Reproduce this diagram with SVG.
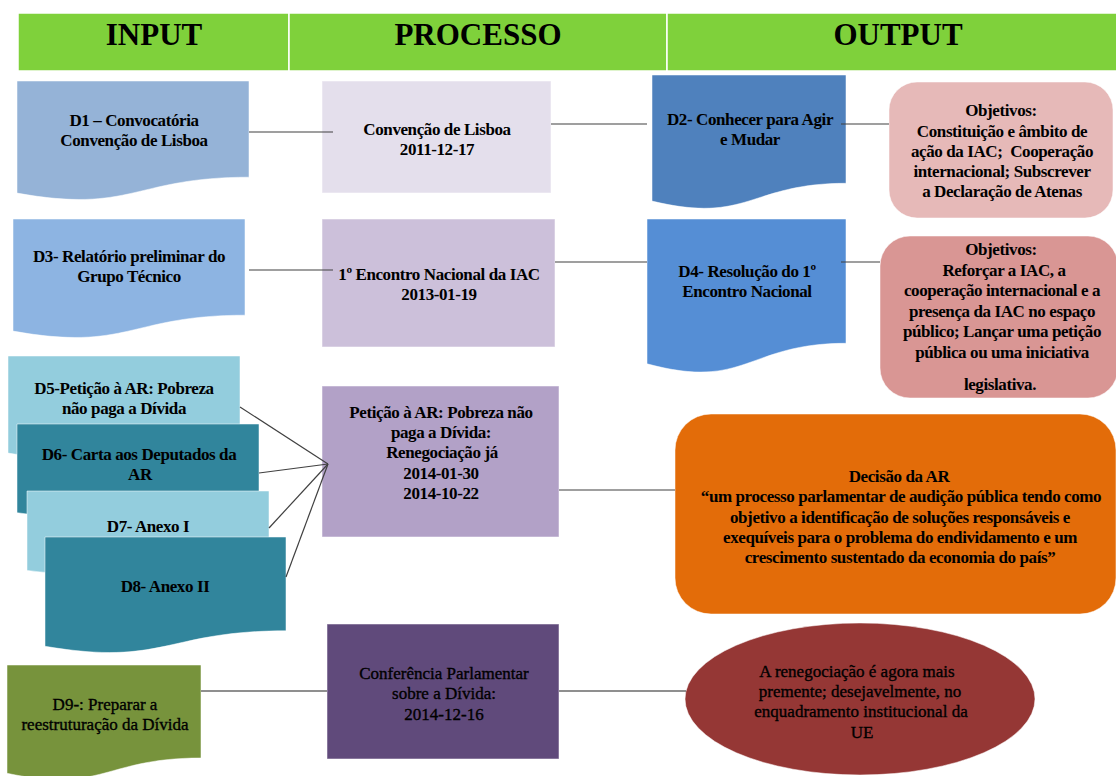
<svg xmlns="http://www.w3.org/2000/svg" width="1116" height="776" viewBox="0 0 1116 776">
<style>
.t{font-family:"Liberation Serif","Times New Roman",serif;font-size:17px;font-weight:bold;letter-spacing:-0.4px;text-anchor:middle;fill:#000}
.r{font-family:"Liberation Serif","Times New Roman",serif;font-size:17px;font-weight:normal;text-anchor:middle;fill:#000;stroke:#000;stroke-width:0.35}
.h{font-family:"Liberation Serif","Times New Roman",serif;font-size:31px;font-weight:bold;text-anchor:middle;fill:#000}
.hc{fill:#7FD13B;stroke:#fff;stroke-width:1.5}
.sh{stroke:#fff;stroke-opacity:0.5;stroke-width:1}
.c{stroke:#404040;stroke-width:1.2;fill:none}
.cb{stroke:#6a6a6a;stroke-width:1.6;fill:none}
</style>
<rect width="1116" height="776" fill="#fff"/>
<g id="header">
<rect class="hc" x="18" y="13" width="271" height="58"/>
<rect class="hc" x="289" y="13" width="378" height="58"/>
<rect class="hc" x="667" y="13" width="460" height="58"/>
<text class="h" x="154" y="45">INPUT</text>
<text class="h" x="478" y="45">PROCESSO</text>
<text class="h" x="898" y="45">OUTPUT</text>
</g>
<g id="D1">
<path class="sh" fill="#95B3D7" d="M17,81 H249 V177.2 C133,177.2 133,213.9 17,193.1 Z"/>
<text class="t" x="134" y="126">D1 – Convocatória</text>
<text class="t" x="134" y="146">Convenção de Lisboa</text>
</g>
<g id="P1">
<rect class="sh" fill="#E4DFEC" x="322" y="81" width="229" height="112"/>
<text class="t" x="437" y="135">Convenção de Lisboa</text>
<text class="t" x="437" y="155">2011-12-17</text>
</g>
<g id="D2">
<path class="sh" fill="#4F81BD" d="M652,75 H846 V183.3 C749,183.3 749,224.5 652,201.1 Z"/>
<text class="t" x="750" y="125">D2- Conhecer para Agir</text>
<text class="t" x="750" y="145">e Mudar</text>
</g>
<g id="O1">
<rect class="sh" fill="#E6B9B8" x="889" y="82" width="224" height="136" rx="28"/>
<text class="t" x="1001" y="116">Objetivos:</text>
<text class="t" x="1002" y="137">Constituição e âmbito de</text>
<text class="t" x="1002" y="157" xml:space="preserve">ação da IAC;  Cooperação</text>
<text class="t" x="1002" y="177">internacional; Subscrever</text>
<text class="t" x="1002" y="197">a Declaração de Atenas</text>
</g>
<g id="D3">
<path class="sh" fill="#8DB4E2" d="M13,219 H245 V315.2 C129,315.2 129,351.9 13,331.1 Z"/>
<text class="t" x="129" y="262">D3- Relatório preliminar do</text>
<text class="t" x="129" y="282">Grupo Técnico</text>
</g>
<g id="P2">
<rect class="sh" fill="#CCC0DA" x="322" y="219" width="233" height="128"/>
<text class="t" x="439" y="280">1º Encontro Nacional da IAC</text>
<text class="t" x="439" y="300">2013-01-19</text>
</g>
<g id="D4">
<path class="sh" fill="#558ED5" d="M647,219 H846 V343.3 C746.5,343.3 746.5,390.7 647,363.8 Z"/>
<text class="t" x="747" y="277">D4- Resolução do 1º</text>
<text class="t" x="747" y="297">Encontro Nacional</text>
</g>
<g id="O2">
<rect class="sh" fill="#D99694" x="880" y="236" width="238" height="162" rx="30"/>
<text class="t" x="1001" y="255">Objetivos:</text>
<text class="t" x="1004" y="276">Reforçar a IAC, a</text>
<text class="t" x="1002" y="296">cooperação internacional e a</text>
<text class="t" x="1002" y="317">presença da IAC no espaço</text>
<text class="t" x="1002" y="337">público; Lançar uma petição</text>
<text class="t" x="1002" y="358">pública ou uma iniciativa</text>
<text class="t" x="1000" y="390">legislativa.</text>
</g>
<g id="D5">
<path class="sh" fill="#93CDDD" d="M8,356 H240 V439.4 C124,439.4 124,471.2 8,453.1 Z"/>
<text class="t" x="124" y="394">D5-Petição à AR: Pobreza</text>
<text class="t" x="124" y="414">não paga a Dívida</text>
</g>
<g id="D6">
<path class="sh" fill="#31859C" d="M17,424 H259 V500.2 C138,500.2 138,529.2 17,512.7 Z"/>
<text class="t" x="139" y="460">D6- Carta aos Deputados da</text>
<text class="t" x="140" y="480">AR</text>
</g>
<g id="D7">
<path class="sh" fill="#93CDDD" d="M27,491 H269 V559.2 C148,559.2 148,585.1 27,570.4 Z"/>
<text class="t" x="148" y="532">D7- Anexo I</text>
</g>
<g id="D8">
<path class="sh" fill="#31859C" d="M45,537 H286 V630.8 C165.5,630.8 165.5,666.6 45,646.3 Z"/>
<text class="t" x="165" y="592">D8- Anexo II</text>
</g>
<g id="P3">
<rect class="sh" fill="#B2A1C7" x="322" y="386" width="237" height="151"/>
<text class="t" x="441" y="418">Petição à AR: Pobreza não</text>
<text class="t" x="441" y="438">paga a Dívida:</text>
<text class="t" x="442" y="458">Renegociação já</text>
<text class="t" x="441" y="479">2014-01-30</text>
<text class="t" x="441" y="499">2014-10-22</text>
</g>
<g id="O3">
<rect class="sh" fill="#E36C09" x="675" y="414" width="441" height="200" rx="36"/>
<text class="t" x="899" y="482">Decisão da AR</text>
<text class="t" x="901" y="502">“um processo parlamentar de audição pública tendo como</text>
<text class="t" x="900" y="523">objetivo a identificação de soluções responsáveis e</text>
<text class="t" x="900" y="543">exequíveis para o problema do endividamento e um</text>
<text class="t" x="900" y="563">crescimento sustentado da economia do país”</text>
</g>
<g id="D9">
<path class="sh" fill="#77933C" d="M7,665 H201 V758 C104,758 104,793.5 7,773.3 Z"/>
<text class="r" x="105" y="710">D9-: Preparar a</text>
<text class="r" x="105" y="730">reestruturação da Dívida</text>
</g>
<g id="P4">
<rect class="sh" fill="#604A7B" x="327" y="624" width="232" height="135"/>
<text class="r" x="444" y="679">Conferência Parlamentar</text>
<text class="r" x="444" y="699">sobre a Dívida:</text>
<text class="r" x="444" y="720">2014-12-16</text>
</g>
<g id="O4">
<ellipse class="sh" fill="#953735" cx="860" cy="699" rx="175" ry="76"/>
<text class="r" x="857" y="677">A renegociação é agora mais</text>
<text class="r" x="860" y="697">premente; desejavelmente, no</text>
<text class="r" x="861" y="717">enquadramento institucional da</text>
<text class="r" x="862" y="738">UE</text>
</g>
<g id="connectors">
<line class="c" x1="249" y1="132" x2="333" y2="132"/>
<line class="c" x1="551" y1="124" x2="647" y2="124"/>
<line class="c" x1="841" y1="124" x2="889" y2="124"/>
<line class="c" x1="249" y1="270" x2="333" y2="270"/>
<line class="c" x1="555" y1="262" x2="647" y2="262"/>
<line class="c" x1="841" y1="262" x2="880" y2="262"/>
<line class="c" x1="240" y1="407" x2="328" y2="464"/>
<line class="c" x1="259" y1="473" x2="328" y2="464"/>
<line class="c" x1="269" y1="528" x2="328" y2="464"/>
<line class="c" x1="286" y1="577" x2="328" y2="464"/>
<line class="c" x1="559" y1="490" x2="675" y2="490"/>
<line class="cb" x1="201" y1="691" x2="327" y2="691"/>
<line class="cb" x1="559" y1="691" x2="686" y2="691"/>
</g>
</svg>
